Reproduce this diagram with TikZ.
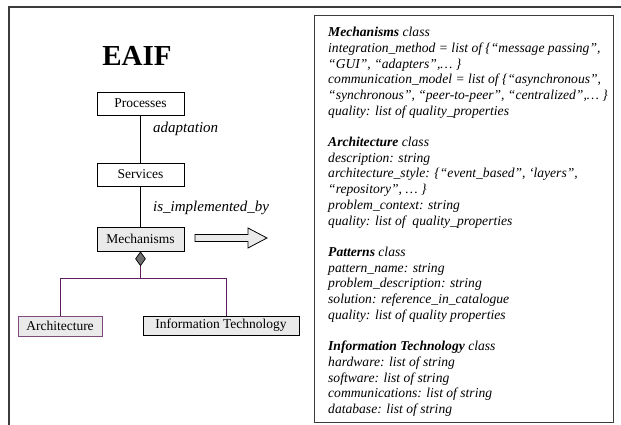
\documentclass[tikz,border=0pt]{standalone}
\usepackage{fontspec}
\setmainfont{Liberation Serif}
\usetikzlibrary{shapes.geometric}
\definecolor{boxgray}{HTML}{EAEAEA}
\definecolor{framegray}{HTML}{3C3C3C}
\definecolor{diagray}{HTML}{6E6E6E}
\definecolor{assocpurple}{HTML}{5E1E5E}
\definecolor{archpurple}{HTML}{7E4A7E}
\tikzset{
  px/.style={x=1pt,y=-1pt},
  plainbox/.style={draw=black,line width=0.9pt,fill=white,minimum width=87pt,minimum height=23pt,inner sep=0pt,font=\fontsize{13.5}{15}\selectfont},
  greybox/.style={plainbox,fill=boxgray},
  linklabel/.style={anchor=west,font=\fontsize{15}{17}\selectfont\itshape,inner sep=0pt},
  link/.style={draw=black,line width=0.9pt},
  partlink/.style={draw=assocpurple,line width=0.9pt},
}
\begin{document}
\begin{tikzpicture}[px]
\useasboundingbox (0,0) rectangle (621,425);
% outer frame (only its top and left edges fall on the page)
\draw[framegray,line width=1.4pt] (9,425) -- (9,7) -- (621,7);

% title
\node[font=\fontsize{29}{32}\selectfont\bfseries] (title) at (137,56) {EAIF};

% hierarchy of the framework
\node[plainbox] (proc) at (140.5,103.5) {Processes};
\node[plainbox] (serv) at (140.5,174.5) {Services};
\node[greybox,minimum height=24pt] (mech) at (140.5,239) {Mechanisms};

\draw[link] (proc.south) -- (serv.north);
\draw[link] (serv.south) -- (mech.north);
\node[linklabel] (lab1) at (153,129) {adaptation};
\node[linklabel] (lab2) at (153,208) {is\_implemented\_by};

% block arrow towards the class descriptions
\draw[line width=0.8pt,fill=boxgray,line join=miter]
  (195,234.5) -- (248,234.5) -- (248,228) -- (267,238) -- (248,248)
  -- (248,241.5) -- (195,241.5) -- cycle;

% composition: Mechanisms is made of Architecture and Information Technology
\node[diamond,draw=black,line width=0.7pt,fill=diagray,minimum width=10pt,minimum height=14pt,
      inner sep=0pt,anchor=north] (dia) at (mech.south) {};
\node[greybox,draw=archpurple,minimum width=84pt,minimum height=20pt] (arch) at (60,326) {Architecture};
\node[greybox,minimum width=156pt,minimum height=19pt] (it) at (221,325.5) {Information Technology};
\coordinate (fork) at (dia.south |- 0,278);
\coordinate (forkL) at (60,278);
\coordinate (forkR) at (226,278);
\draw[partlink] (dia.south) -- (fork);
\draw[partlink] (forkL) -- (forkR);
\draw[partlink] (forkL) -- (arch.north);
\draw[partlink] (forkR) -- (forkR |- it.north);

% class descriptions
\node[draw=framegray,line width=1.1pt,minimum width=299pt,minimum height=407pt,anchor=north west,inner sep=0pt] (panel) at (314,15) {};
\node[anchor=north west,align=left,inner sep=0pt,font=\fontsize{13.6}{15.7}\selectfont\itshape] (spec) at (328,27) {%
\textbf{Mechanisms} class\\
integration\_method = list of \{“message passing”,\\
“GUI”, “adapters”,\dots\ \}\\
communication\_model = list of \{“asynchronous”,\\
“synchronous”, “peer-to-peer”, “centralized”,\dots\ \}\\
quality: list of quality\_properties\\[15.7pt]
\textbf{Architecture} class\\
description: string\\
architecture\_style: \{“event\_based”, ‘layers”,\\
“repository”, \dots\ \}\\
problem\_context: string\\
quality: list of\ \ quality\_properties\\[15.7pt]
\textbf{Patterns} class\\
pattern\_name: string\\
problem\_description: string\\
solution: reference\_in\_catalogue\\
quality: list of quality properties\\[15.7pt]
\textbf{Information Technology} class\\
hardware: list of string\\
software: list of string\\
communications: list of string\\
database: list of string};
\end{tikzpicture}
\end{document}
